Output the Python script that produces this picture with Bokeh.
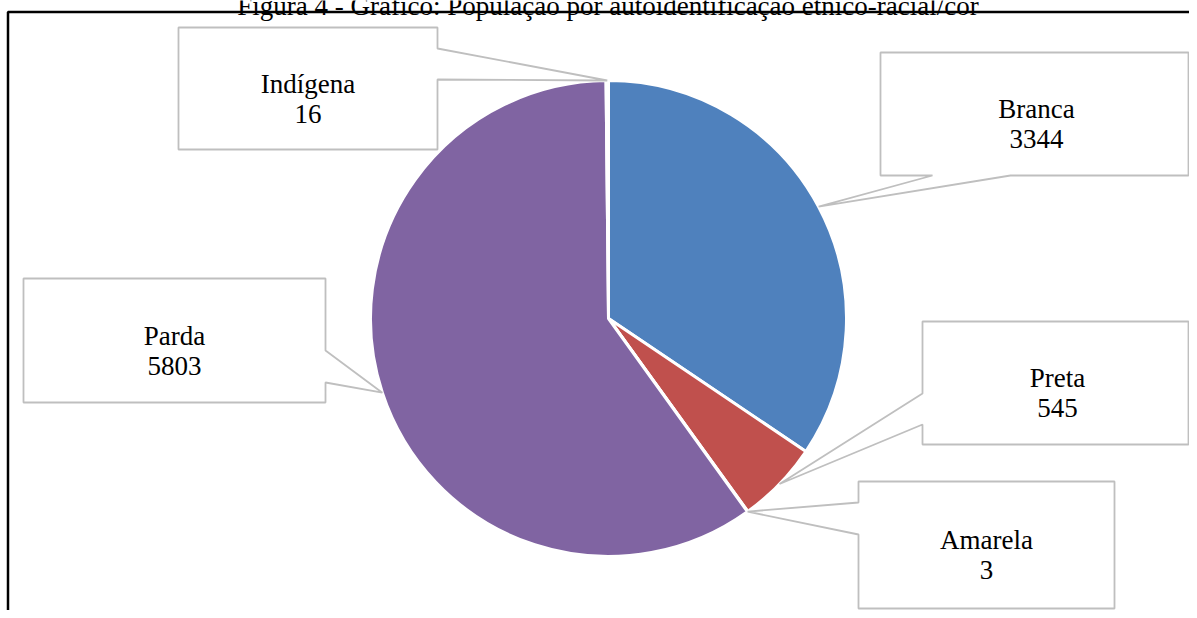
import numpy as np
from bokeh.plotting import figure
from bokeh.models import Range1d, ColumnDataSource
from bokeh.embed import file_html
from bokeh.resources import INLINE
from bokeh.core.properties import value

# ---- data ----
categories = ["Branca", "Preta", "Amarela", "Parda", "Indígena"]
counts = [3344, 545, 3, 5803, 16]
colors = ["#4F81BD", "#C0504D", "#9BBB59", "#8064A2", "#4BACC6"]
title_text = "Figura 4 - Gráfico: População por autoidentificação étnico-racial/cor"

# ---- layout (picture pixels, y downwards) ----
W, H = 1189, 610
CX, CY, R = 608, 318, 238
box_left = [880, 922, 858, 23, 178]
box_top = [52, 321, 481, 278, 27]
box_right = [1188, 1188, 1114, 325, 437]
box_bottom = [175, 444, 608, 402, 149]
label_cx = [1036, 1057, 986, 174, 307.5]
box_side = ["bottom", "left", "left", "right", "right"]
notch1 = [932, 393, 502, 350, 48]
notch2 = [1010, 424, 534, 382, 79]

FONT = "Liberation Serif"
FS = "27px"


def fy(y):
    return H - y


vals = np.array(counts, dtype=float)
frac = vals / vals.sum()
cum_end = np.cumsum(frac)
cum_start = cum_end - frac
start_ang = np.pi / 2 - 2 * np.pi * cum_end
end_ang = np.pi / 2 - 2 * np.pi * cum_start
mid_ang = (start_ang + end_ang) / 2

p = figure(width=W, height=H, x_range=Range1d(0, W), y_range=Range1d(0, H),
           toolbar_location=None, output_backend="svg", min_border=0)
p.axis.visible = False
p.grid.visible = False
p.outline_line_color = None
p.background_fill_color = "white"
p.border_fill_color = "white"

# pie
src = ColumnDataSource(dict(cat=categories, start=start_ang, end=end_ang, color=colors))
p.wedge(x=CX, y=fy(CY), radius=R, start_angle="start", end_angle="end",
        direction="anticlock", fill_color="color", line_color="white",
        line_width=3, source=src)

# callouts
xs, ys = [], []
for i in range(len(categories)):
    l, t, r, b = box_left[i], box_top[i], box_right[i], box_bottom[i]
    tx = CX + R * np.cos(mid_ang[i])
    ty = CY - R * np.sin(mid_ang[i])
    n1, n2 = notch1[i], notch2[i]
    side = box_side[i]
    if side == "right":
        pts = [(l, t), (r, t), (r, n1), (tx, ty), (r, n2), (r, b), (l, b)]
    elif side == "bottom":
        pts = [(l, t), (r, t), (r, b), (n2, b), (tx, ty), (n1, b), (l, b)]
    else:
        pts = [(l, t), (r, t), (r, b), (l, b), (l, n2), (tx, ty), (l, n1)]
    xs.append([q[0] for q in pts])
    ys.append([fy(q[1]) for q in pts])
p.patches(xs, ys, fill_color="white", line_color="#BFBFBF", line_width=1.8)

cys = [(box_top[i] + box_bottom[i]) / 2 for i in range(len(categories))]
p.text(x=label_cx, y=[fy(c - 5) for c in cys], text=categories,
       text_align="center", text_baseline="alphabetic",
       text_font=value(FONT), text_font_size=FS, text_color="black")
p.text(x=label_cx, y=[fy(c + 25) for c in cys], text=[str(v) for v in counts],
       text_align="center", text_baseline="alphabetic",
       text_font=value(FONT), text_font_size=FS, text_color="black")

# frame and (cropped) title
p.line(x=[7.5, 7.5, W + 20], y=[fy(H + 20), fy(11.5), fy(11.5)],
       line_color="black", line_width=2.5)
p.text(x=[607.5], y=[fy(5)], text=[title_text], text_align="center",
       text_baseline="alphabetic", text_font=value(FONT), text_font_size=FS,
       text_color="black")

open("out.html", "w").write(file_html(p, INLINE))
